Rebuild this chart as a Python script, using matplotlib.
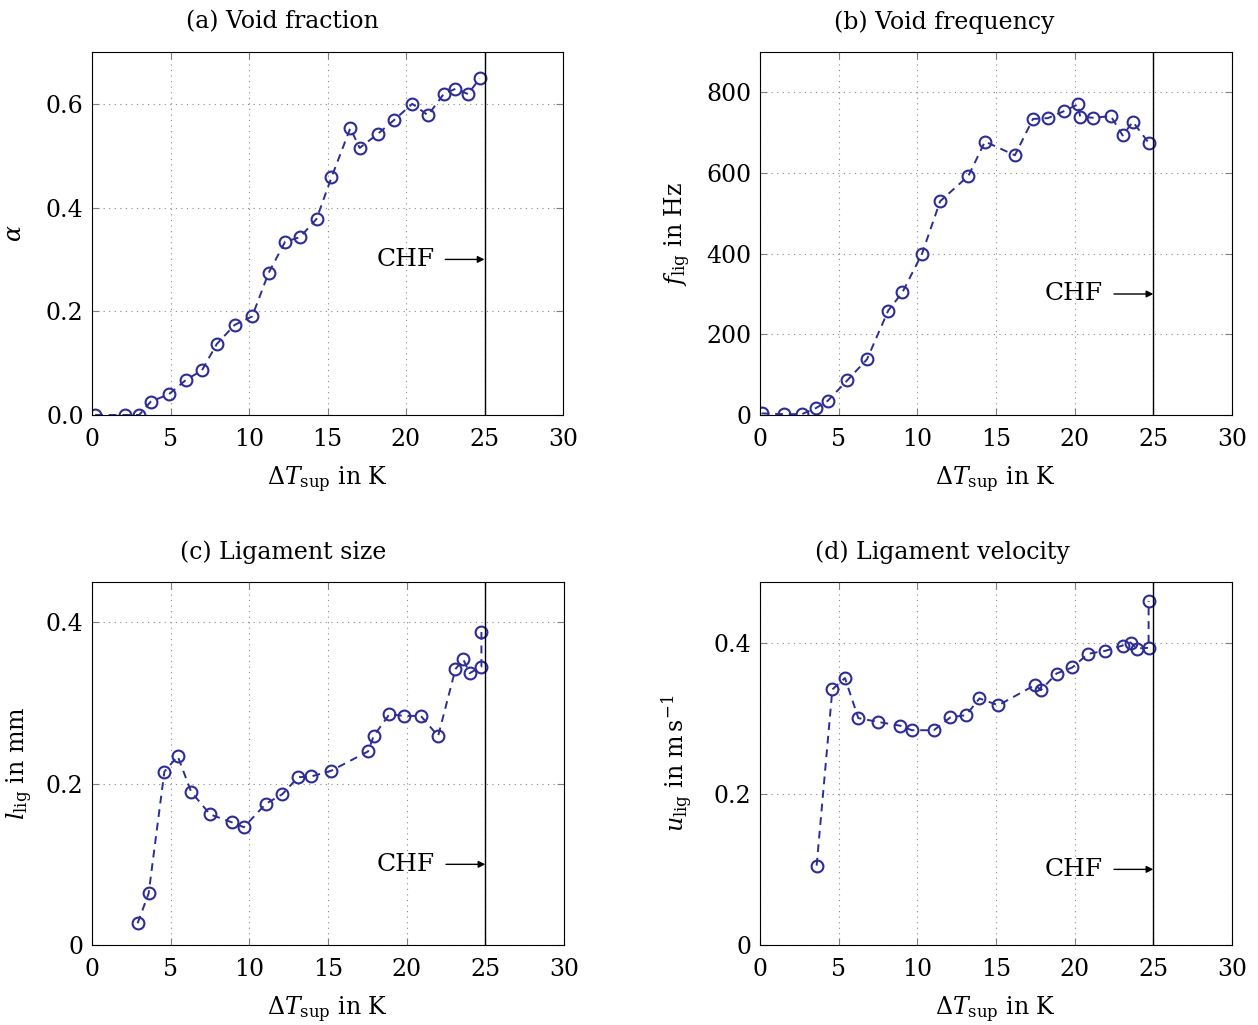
import matplotlib
matplotlib.use("Agg")
import matplotlib.pyplot as plt

plt.rcParams['font.family'] = ['DejaVu Serif']
plt.rcParams['mathtext.fontset'] = 'dejavuserif'
plt.rcParams['font.size'] = 17

LINE_COLOR = '#2d2d96'

# --- (a) Void fraction ---
dT_a = [0.2, 2.1, 3.0, 3.75, 4.9, 6.0, 7.0, 7.95, 9.1, 10.2, 11.25, 12.3, 13.25, 14.3,
        15.25, 16.45, 17.05, 18.2, 19.25, 20.4, 21.4, 22.4, 23.15, 23.95, 24.7]
alpha = [0.0, 0.0, 0.0, 0.026, 0.040, 0.068, 0.086, 0.137, 0.174, 0.190, 0.274, 0.334,
         0.343, 0.378, 0.458, 0.553, 0.515, 0.542, 0.569, 0.600, 0.578, 0.619, 0.629,
         0.619, 0.649]

# --- (b) Void frequency ---
dT_b = [0.1, 1.55, 2.65, 3.55, 4.3, 5.55, 6.8, 8.15, 9.05, 10.3, 11.45, 13.25, 14.3,
        16.2, 17.35, 18.3, 19.3, 20.2, 20.35, 21.15, 22.3, 23.05, 23.7, 24.7]
f_lig = [4, 2, 2, 17, 35, 86, 138, 259, 304, 400, 530, 593, 678, 644, 734, 736, 753,
         770, 740, 737, 741, 693, 727, 675]

# --- (c) Ligament size ---
dT_c = [2.9, 3.6, 4.6, 5.45, 6.3, 7.5, 8.9, 9.65, 11.05, 12.1, 13.1, 13.95, 15.2, 17.55,
        17.9, 18.9, 19.85, 20.9, 22.0, 23.1, 23.6, 24.0, 24.75, 24.75]
l_lig = [0.027, 0.064, 0.215, 0.234, 0.190, 0.162, 0.152, 0.146, 0.175, 0.187, 0.208,
         0.209, 0.216, 0.240, 0.259, 0.286, 0.284, 0.284, 0.259, 0.342, 0.354, 0.337,
         0.345, 0.388]

# --- (d) Ligament velocity ---
dT_d = [3.6, 4.6, 5.4, 6.25, 7.5, 8.9, 9.65, 11.05, 12.1, 13.1, 13.95, 15.15, 17.5,
        17.85, 18.85, 19.85, 20.85, 21.95, 23.05, 23.55, 23.95, 24.7, 24.7]
u_lig = [0.105, 0.338, 0.353, 0.300, 0.295, 0.290, 0.284, 0.284, 0.301, 0.304, 0.326,
         0.317, 0.344, 0.337, 0.359, 0.367, 0.385, 0.389, 0.396, 0.400, 0.392, 0.393,
         0.455]

x_ticks = [0, 5, 10, 15, 20, 25, 30]
T_CHF = 25

panels = [
    dict(x=dT_a, y=alpha, title='(a) Void fraction', ylabel=r'$\alpha$',
         ylim=(0, 0.7), yticks=[0, 0.2, 0.4, 0.6], ylabels=['0.0', '0.2', '0.4', '0.6'],
         chf=0.3, rect=[92, 52, 563, 415], tx=282, ylpad=14),
    dict(x=dT_b, y=f_lig, title='(b) Void frequency', ylabel=r'$f_{\mathrm{lig}}$ in Hz',
         ylim=(0, 900), yticks=[0, 200, 400, 600, 800],
         ylabels=['0', '200', '400', '600', '800'],
         chf=300, rect=[760, 52, 1232, 415], tx=944, ylpad=10),
    dict(x=dT_c, y=l_lig, title='(c) Ligament size', ylabel=r'$l_{\mathrm{lig}}$ in mm',
         ylim=(0, 0.45), yticks=[0, 0.2, 0.4], ylabels=['0', '0.2', '0.4'],
         chf=0.1, rect=[92, 582, 564, 945], tx=283, ylpad=8),
    dict(x=dT_d, y=u_lig, title='(d) Ligament velocity',
         ylabel=r'$u_{\mathrm{lig}}$ in m$\,$s$^{-1}$',
         ylim=(0, 0.48), yticks=[0, 0.2, 0.4], ylabels=['0', '0.2', '0.4'],
         chf=0.1, rect=[760, 582, 1232, 945], tx=942, ylpad=14),
]

W, H = 1258, 1025
fig = plt.figure(figsize=(W / 100, H / 100), dpi=100)

for p in panels:
    l, t, r, b = p['rect']
    ax = fig.add_axes([l / W, (H - b) / H, (r - l) / W, (b - t) / H])
    ax.plot(p['x'], p['y'], linestyle=(0, (4, 3)), color=LINE_COLOR, lw=1.4,
            marker='o', markersize=8.5, markerfacecolor='none',
            markeredgecolor=LINE_COLOR, markeredgewidth=1.5)
    ax.axvline(T_CHF, color='black', lw=1.0)
    ax.annotate('', xy=(T_CHF, p['chf']), xytext=(22.5, p['chf']),
                arrowprops=dict(arrowstyle='-|>', color='black', lw=1.0,
                                mutation_scale=10, shrinkA=0, shrinkB=0))
    ax.text(21.8, p['chf'], 'CHF', ha='right', va='center', fontsize=18)
    ax.set_xlim(0, 30)
    ax.set_ylim(*p['ylim'])
    ax.set_xticks(x_ticks)
    ax.set_yticks(p['yticks'])
    ax.set_yticklabels(p['ylabels'])
    ax.grid(True, linestyle=(0, (1, 4)), color='#888888', lw=0.8)
    ax.tick_params(direction='in', top=True, right=True, length=5, color='gray',
                   labelsize=17)
    ax.tick_params(axis='x', pad=9)
    ax.tick_params(axis='y', pad=6)
    ax.set_xlabel(r'$\Delta T_{\mathrm{sup}}$ in K', fontsize=17, labelpad=10)
    ax.set_ylabel(p['ylabel'], fontsize=17, labelpad=p['ylpad'])
    # subfigure caption, centred over the whole sub-figure
    fig.text(p['tx'] / W, 1 - (t - 30) / H, p['title'], ha='center', va='center',
             fontsize=17)

fig.savefig('out.png', dpi=100)
